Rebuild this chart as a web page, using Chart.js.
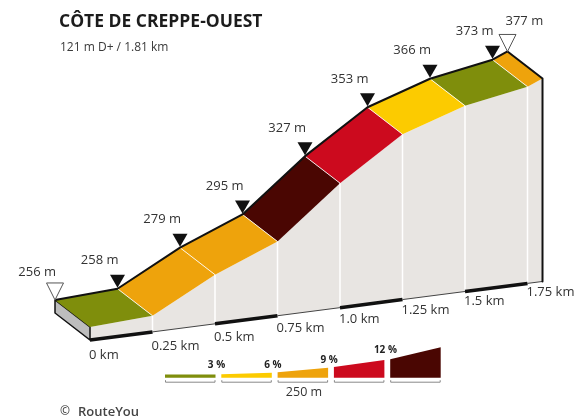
<!DOCTYPE html>
<html>
<head>
<meta charset="utf-8">
<script src="https://cdn.jsdelivr.net/npm/chart.js@4.4.0/dist/chart.umd.min.js"></script>
<style>
  html, body { margin: 0; padding: 0; background: #fff; }
  #wrap { width: 579px; height: 419px; }
</style>
</head>
<body>
<div id="wrap"><canvas id="profile" width="579" height="419"></canvas></div>
<script>
// Climb data: distance (km) and elevation (m) at each marker
const distances = [0, 0.25, 0.5, 0.75, 1.0, 1.25, 1.5, 1.75, 1.81];
const elevations = [256, 258, 279, 295, 327, 353, 366, 373, 377];
const kmTicks = [0, 0.25, 0.5, 0.75, 1.0, 1.25, 1.5, 1.75];
const kmLabels = ['0 km', '0.25 km', '0.5 km', '0.75 km', '1.0 km', '1.25 km', '1.5 km', '1.75 km'];
const gradeLimits = [3, 6, 9, 12];
const gradeLabels = ['3 %', '6 %', '9 %', '12 %'];
const legendLength = '250 m';
const titleText = 'CÔTE DE CREPPE-OUEST';
const subtitleText = '121 m D+ / 1.81 km';

const gradeColors = ['#7f8e0c', '#fccb00', '#eea30c', '#cc0a1e', '#4a0602'];
const FONT = '"Open Sans", "Noto Sans", sans-serif';

// Oblique projection, in data units
const TILT = 20.6;     // baseline rise (m per km)
const BASE = 247.7;    // elevation of the base plate
const DEPTH_X = -0.14; // back edge offset (km)
const DEPTH_Y = 17.2;  // back edge offset (m)

const front = (d, h) => ({ x: d, y: h + TILT * d });
const back = (d, h) => ({ x: d + DEPTH_X, y: h + TILT * d + DEPTH_Y });
const ground = d => ({ x: d, y: BASE + TILT * d });

function gradeColor(g) {
    let i = 0;
    while (i < gradeLimits.length && g >= gradeLimits[i]) i++;
    return gradeColors[i];
}

const last = distances.length - 1;
const datasets = [];

// layer: higher = drawn on top
function addShape(points, opts, layer) {
    datasets.push(Object.assign({
        data: points,
        pointRadius: 0,
        tension: 0,
        borderWidth: 1,
        borderColor: 'rgba(0,0,0,0)',
        fill: false,
        order: 100 - layer
    }, opts));
}

// Front face
const frontTop = distances.map((d, i) => front(d, elevations[i]));
addShape(frontTop.concat([ground(distances[last]), ground(0)]),
    { fill: 'shape', backgroundColor: '#e8e5e2' }, 0);

// Left end face
addShape([
    back(0, elevations[0]), front(0, elevations[0]), ground(0),
    { x: DEPTH_X, y: BASE + DEPTH_Y }, back(0, elevations[0])
], { fill: 'shape', backgroundColor: '#bdbdbd', borderColor: '#111', borderWidth: 1.5 }, 1);

// Coloured top panels, one per segment
for (let i = 0; i < last; i++) {
    const grade = (elevations[i + 1] - elevations[i]) / ((distances[i + 1] - distances[i]) * 10);
    addShape([
        back(distances[i], elevations[i]), back(distances[i + 1], elevations[i + 1]),
        front(distances[i + 1], elevations[i + 1]), front(distances[i], elevations[i])
    ], { fill: 'shape', backgroundColor: gradeColor(grade) }, 2);
}

// Separators on the top and on the front face
for (let i = 1; i < last; i++) {
    addShape([back(distances[i], elevations[i]), front(distances[i], elevations[i])],
        { borderColor: 'rgba(255,255,255,0.85)', borderWidth: 1 }, 3);
}
for (let i = 1; i <= last; i++) {
    addShape([front(distances[i], elevations[i]), ground(distances[i])],
        { borderColor: '#ffffff', borderWidth: 1.5 }, 3);
}

// Base line, alternating thick segments
for (let i = 0; i < last; i++) {
    const thick = i % 2 === 0 && i < kmTicks.length - 1;
    addShape([ground(distances[i]), ground(distances[i + 1])],
        { borderColor: thick ? '#111' : '#444', borderWidth: thick ? 3.5 : 1 }, 4);
}

// Profile line along the back edge, down the right end
addShape(distances.map((d, i) => back(d, elevations[i]))
    .concat([front(distances[last], elevations[last]), ground(distances[last])]),
    { borderColor: '#111', borderWidth: 2, borderJoinStyle: 'round' }, 5);

const overlay = {
    id: 'overlay',
    afterDatasetsDraw(chart) {
        const { ctx, scales: { x, y } } = chart;
        const pix = p => ({ x: x.getPixelForValue(p.x), y: y.getPixelForValue(p.y) });
        ctx.save();

        // Title
        ctx.fillStyle = '#1c1c1c';
        ctx.font = 'bold 17.5px ' + FONT;
        ctx.textBaseline = 'alphabetic';
        ctx.textAlign = 'left';
        ctx.fillText(titleText, 59, 27);
        ctx.fillStyle = '#3a3a3a';
        ctx.font = '12px ' + FONT;
        ctx.fillText(subtitleText, 60, 51);

        // Markers and elevation labels
        ctx.textBaseline = 'middle';
        ctx.font = '13px ' + FONT;
        distances.forEach((d, i) => {
            const p = pix(back(d, elevations[i]));
            ctx.beginPath();
            if (i === 0 || i === last) {
                ctx.moveTo(p.x, p.y);
                ctx.lineTo(p.x - 8.5, p.y - 17);
                ctx.lineTo(p.x + 8.5, p.y - 17);
                ctx.closePath();
                ctx.fillStyle = '#fff';
                ctx.fill();
                ctx.strokeStyle = '#555';
                ctx.lineWidth = 1;
                ctx.stroke();
            } else {
                ctx.moveTo(p.x, p.y - 1);
                ctx.lineTo(p.x - 7.5, p.y - 14);
                ctx.lineTo(p.x + 7.5, p.y - 14);
                ctx.closePath();
                ctx.fillStyle = '#111';
                ctx.fill();
            }
            ctx.fillStyle = '#333';
            if (i === last) {
                ctx.textAlign = 'left';
                ctx.fillText(elevations[i] + ' m', p.x - 2, p.y - 30);
            } else {
                ctx.textAlign = 'right';
                ctx.fillText(elevations[i] + ' m', p.x + 1, p.y - 28);
            }
        });

        // Distance labels
        ctx.textAlign = 'left';
        kmTicks.forEach((d, i) => {
            const p = pix(ground(d));
            ctx.fillText(kmLabels[i], p.x - 1, p.y + 15 - 3.4 * d);
        });

        // Gradient key
        const keyX = 165, keyW = 50.5, keyStep = 56.3, keyBottom = 377.7;
        const keyHeights = [[3.2, 3.2], [3.4, 5], [5.4, 10], [10.7, 17.7], [18.4, 30.4]];
        gradeColors.forEach((c, i) => {
            const x0 = keyX + i * keyStep, x1 = x0 + keyW;
            ctx.beginPath();
            ctx.moveTo(x0, keyBottom);
            ctx.lineTo(x0, keyBottom - keyHeights[i][0]);
            ctx.lineTo(x1, keyBottom - keyHeights[i][1]);
            ctx.lineTo(x1, keyBottom);
            ctx.closePath();
            ctx.fillStyle = c;
            ctx.fill();
            // bracket
            ctx.beginPath();
            ctx.moveTo(x0 + 0.5, keyBottom + 2.5);
            ctx.lineTo(x0 + 0.5, keyBottom + 4.5);
            ctx.lineTo(x1 - 0.5, keyBottom + 4.5);
            ctx.lineTo(x1 - 0.5, keyBottom + 2.5);
            ctx.strokeStyle = '#888';
            ctx.lineWidth = 1;
            ctx.stroke();
        });
        ctx.fillStyle = '#222';
        ctx.font = 'bold 10px ' + FONT;
        ctx.textAlign = 'center';
        const labelY = [365, 365, 360.5, 350.5];
        gradeLabels.forEach((t, i) => {
            const xb = keyX + keyW + i * keyStep + 3;
            ctx.fillText(t, xb - 2, labelY[i]);
        });
        ctx.fillStyle = '#333';
        ctx.font = '12.5px ' + FONT;
        ctx.fillText(legendLength, 304, 392);

        // Credit
        ctx.textAlign = 'left';
        ctx.fillStyle = '#444';
        ctx.font = '600 12px ' + FONT;
        ctx.fillText('©', 60, 412);
        ctx.font = '600 13px ' + FONT;
        ctx.fillText('RouteYou', 78, 412);

        ctx.restore();
    }
};

new Chart(document.getElementById('profile'), {
    type: 'line',
    data: { datasets },
    options: {
        responsive: false,
        animation: false,
        events: [],
        layout: { padding: 0, autoPadding: false },
        plugins: {
            legend: { display: false },
            tooltip: { enabled: false },
            filler: { propagate: false }
        },
        scales: {
            x: { type: 'linear', display: false, min: -0.36, max: 1.956 },
            y: { type: 'linear', display: false, min: 197.38, max: 464.26 }
        }
    },
    plugins: [overlay]
});
</script>
</body>
</html>
